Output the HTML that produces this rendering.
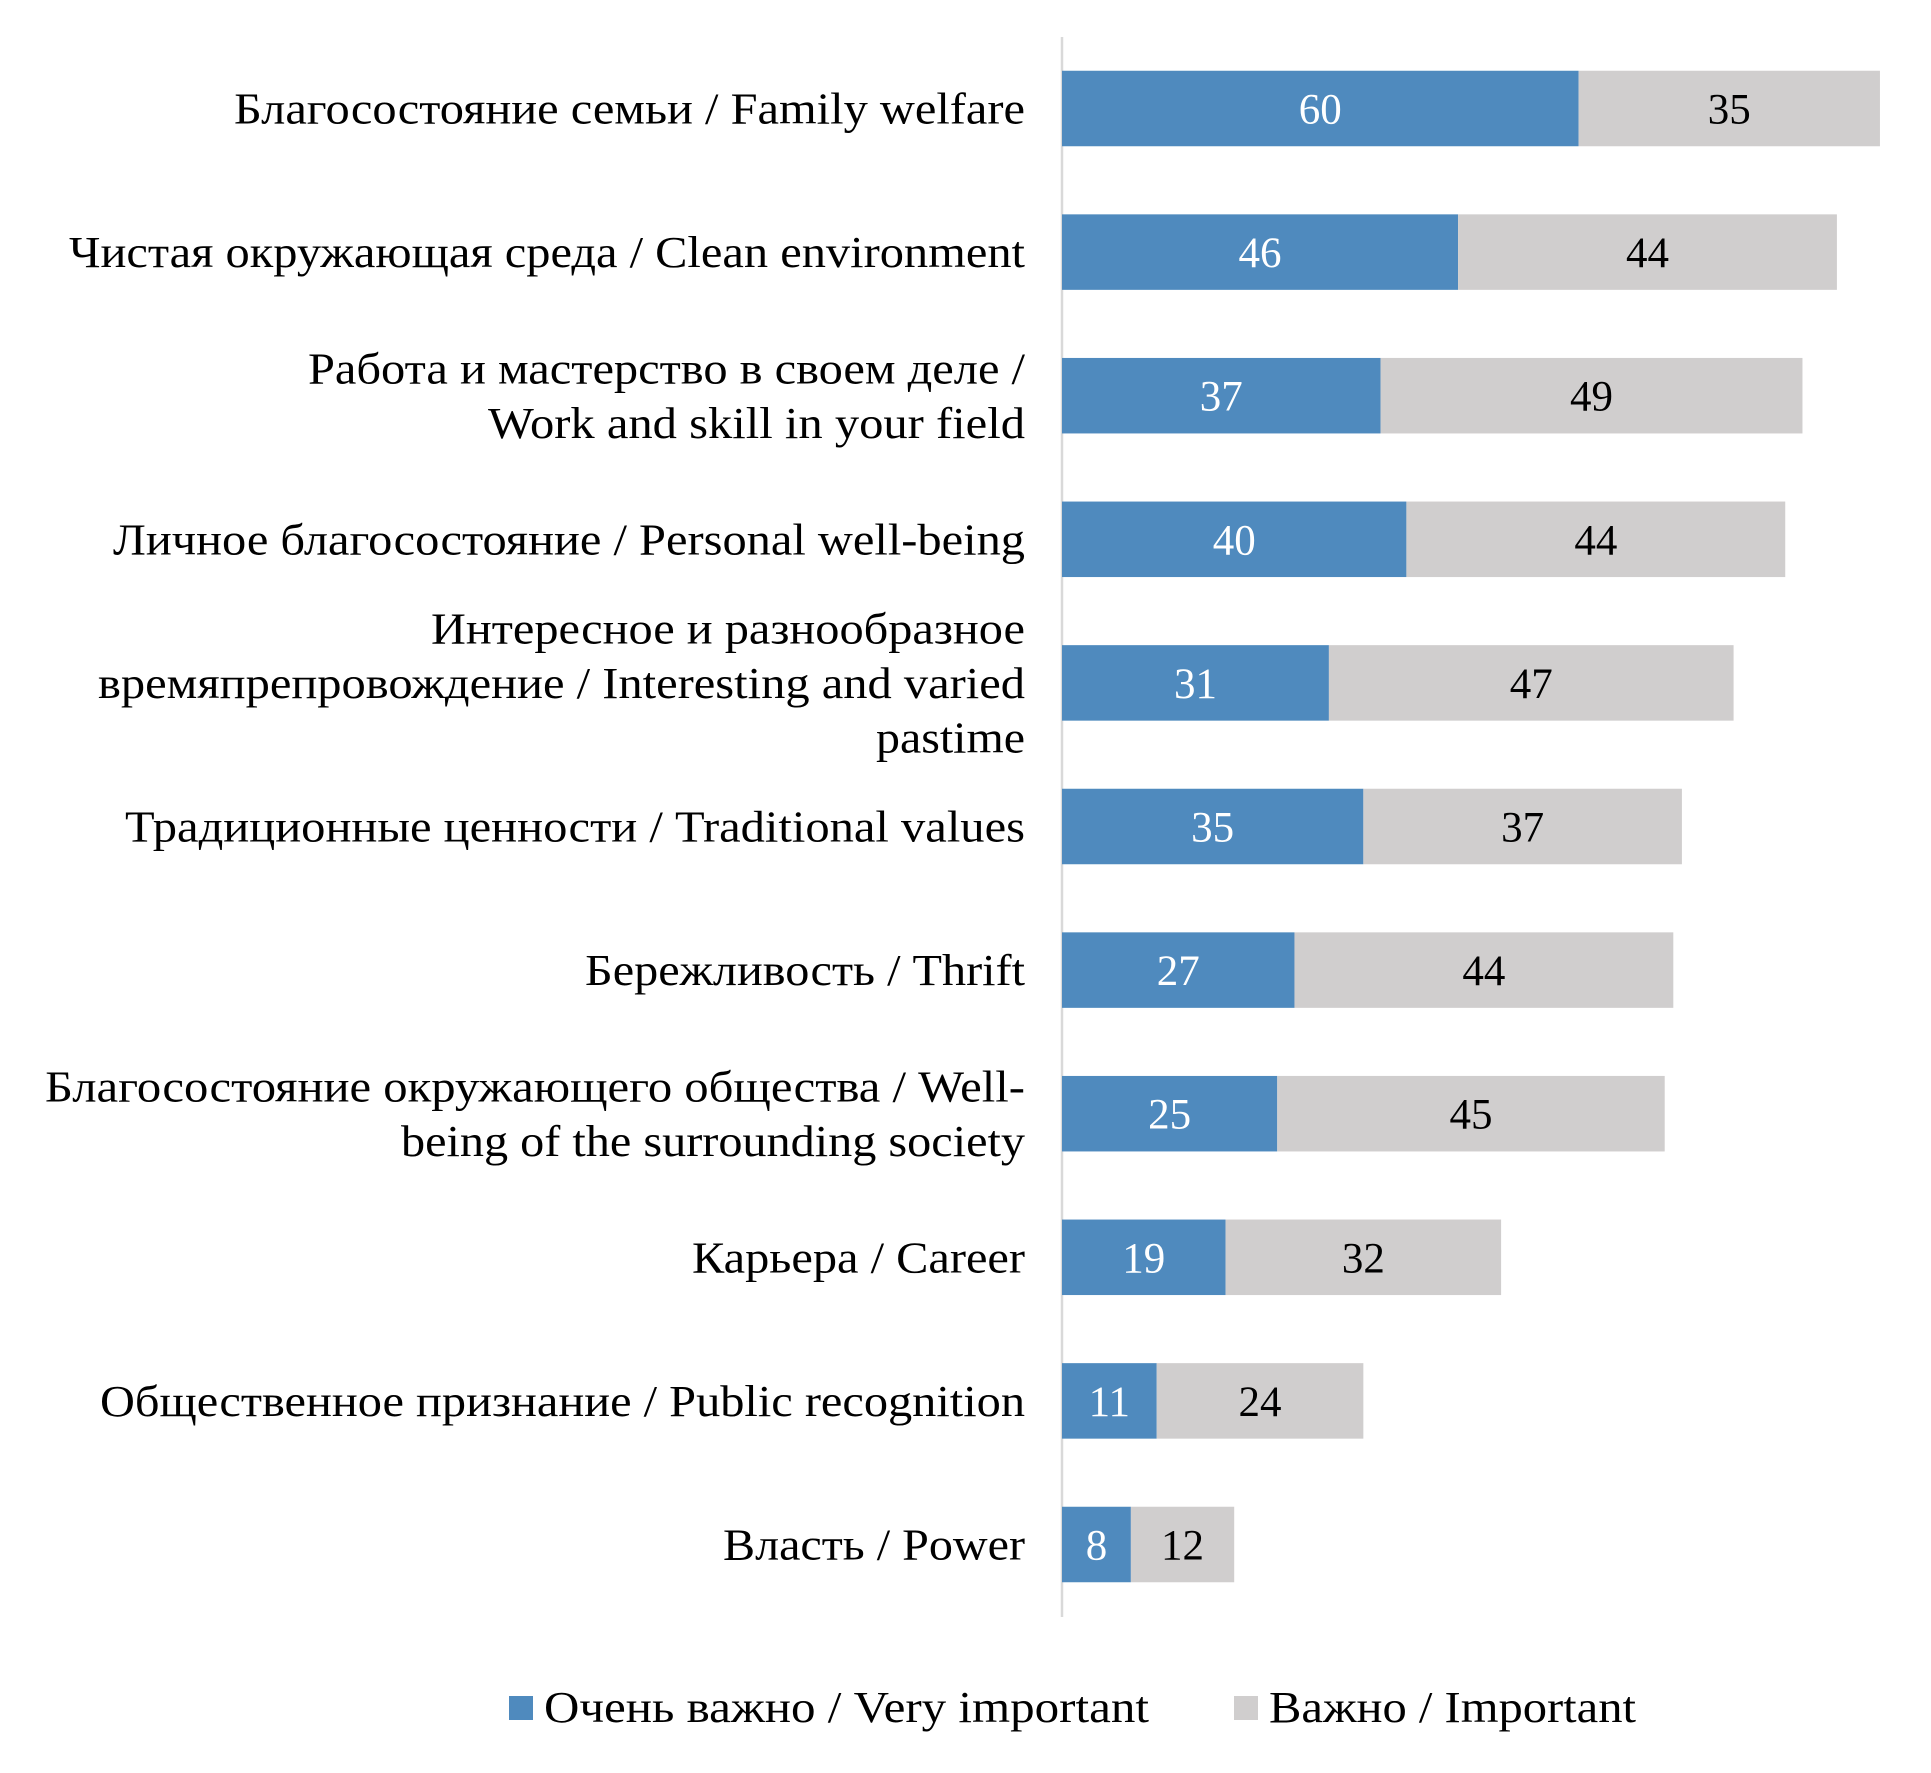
<!DOCTYPE html>
<html><head><meta charset="utf-8"><style>
html,body{margin:0;padding:0;background:#fff;}
svg{display:block;font-family:"Liberation Serif","DejaVu Serif",serif;}
</style></head><body>
<svg id="chart" width="1931" height="1773" viewBox="0 0 1931 1773" xmlns="http://www.w3.org/2000/svg">
<defs><clipPath id="plotclip"><rect x="0" y="0" width="1931" height="766"/><rect x="0" y="778" width="1931" height="995"/></clipPath></defs>
<line x1="1062" y1="37" x2="1062" y2="1617" stroke="#d9d9d9" stroke-width="2.5"/>
<g id="bars"></g>
<g id="labels" clip-path="url(#plotclip)"></g>
<g>
<rect x="509" y="1696" width="24" height="24" fill="#4f8abe"/>
<text x="544" y="1722" font-size="44" textLength="605" lengthAdjust="spacingAndGlyphs">Очень важно / Very important</text>
<rect x="1234" y="1696" width="24" height="24" fill="#d0cece"/>
<text x="1269" y="1722" font-size="44" textLength="367" lengthAdjust="spacingAndGlyphs">Важно / Important</text>
</g>
</svg>
<script>
const categories = [
 ["Благосостояние семьи / Family welfare"],
 ["Чистая окружающая среда / Clean environment"],
 ["Работа и мастерство в своем деле /","Work and skill in your field"],
 ["Личное благосостояние / Personal well-being"],
 ["Интересное и разнообразное","времяпрепровождение / Interesting and varied","pastime"],
 ["Традиционные ценности / Traditional values"],
 ["Бережливость / Thrift"],
 ["Благосостояние окружающего общества / Well-","being of the surrounding society"],
 ["Карьера / Career"],
 ["Общественное признание / Public recognition"],
 ["Власть / Power"]
];
const veryImportant = [60,46,37,40,31,35,27,25,19,11,8];
const important = [35,44,49,44,47,37,44,45,32,24,12];
const labelWidths = [[791],[956],[717,537],[912],[594,927,149],[900],[440],[980,624],[333],[925],[302]];

const NS="http://www.w3.org/2000/svg";
const x0=1062, unit=8.61, rowTop=108.5, pitch=143.6, barH=75.5, labelRight=1025, lineH=54.5;
const xs=v=>x0+v*unit;
const yc=i=>rowTop+i*pitch;
const bars=document.getElementById('bars'), labels=document.getElementById('labels');
function mk(tag,attrs,parent){const e=document.createElementNS(NS,tag);for(const k in attrs)e.setAttribute(k,attrs[k]);parent.appendChild(e);return e;}
categories.forEach((lines,i)=>{
  const c=yc(i), a=veryImportant[i], b=important[i];
  const r1=mk('rect',{x:xs(0),y:c-barH/2,width:xs(a)-xs(0),height:barH,fill:'#4f8abe'},bars);
  
  
  const r2=mk('rect',{x:xs(a),y:c-barH/2,width:xs(a+b)-xs(a),height:barH,fill:'#d0cece'},bars);
  
  
  const t1=mk('text',{x:(xs(0)+xs(a))/2,y:c+15,'font-size':43,'text-anchor':'middle',fill:'#fff'},bars);
  t1.textContent=a;
  
  
  const t2=mk('text',{x:(xs(a)+xs(a+b))/2,y:c+15,'font-size':43,'text-anchor':'middle',fill:'#000'},bars);
  t2.textContent=b;
  
  
  const n=lines.length, start=c+15-(n-1)*lineH/2;
  lines.forEach((ln,j)=>{
    const t=mk('text',{x:labelRight,y:start+j*lineH,'font-size':44,'text-anchor':'end',fill:'#000',textLength:labelWidths[i][j],lengthAdjust:'spacingAndGlyphs'},labels);
    t.textContent=ln;
    
    
  });
});
</script>
</body></html>
